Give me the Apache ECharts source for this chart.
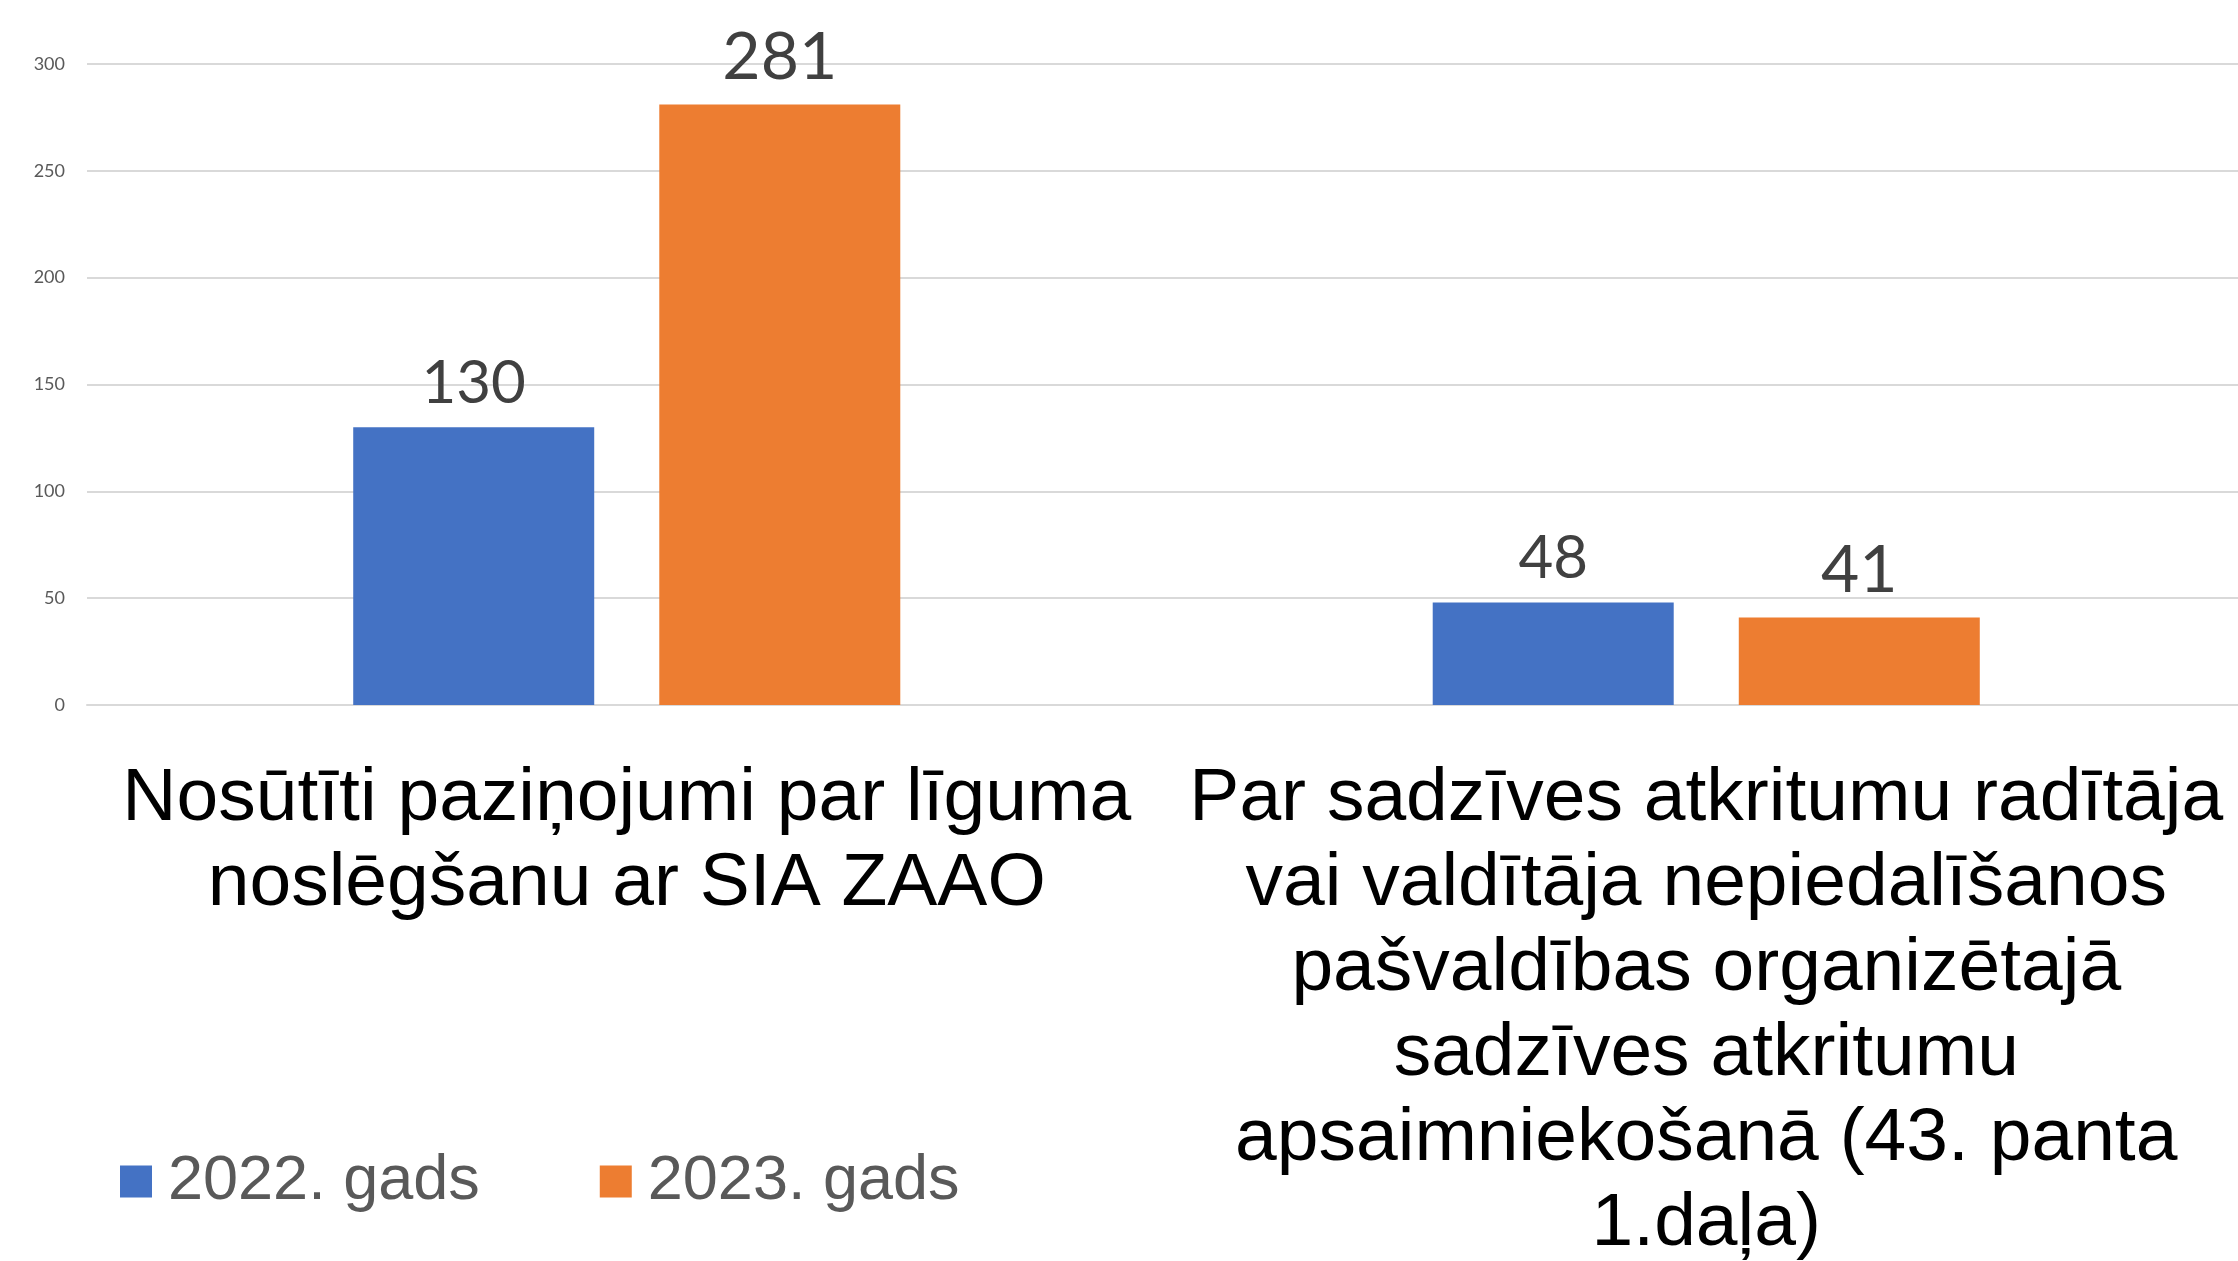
<!DOCTYPE html>
<html>
<head>
<meta charset="utf-8">
<script src="https://cdn.jsdelivr.net/npm/echarts@6/dist/echarts.min.js"></script>
<style>
html,body{margin:0;padding:0;background:#fff;}
#chart{width:2238px;height:1261px;}
</style>
</head>
<body>
<div id="chart"></div>
<script>
const categories = [
  "Nosūtīti paziņojumi par līguma\nnoslēgšanu ar SIA ZAAO",
  "Par sadzīves atkritumu radītāja\nvai valdītāja nepiedalīšanos\npašvaldības organizētajā\nsadzīves atkritumu\napsaimniekošanā (43. panta\n1.daļa)"
];
const seriesNames = ["2022. gads", "2023. gads"];
const values2022 = [130, 48];
const values2023 = [281, 41];
const yMin = 0, yMax = 300, yInterval = 50;

const chart = echarts.init(document.getElementById('chart'));
chart.setOption({
  animation: false,
  backgroundColor: '#ffffff',
  grid: { left: 87, right: -8, top: 64, bottom: 556, containLabel: false, outerBoundsMode: 'none' },
  legend: {
    left: 115, top: 1145,
    itemWidth: 32, itemHeight: 32, itemGap: 120,
    icon: 'rect',
    textStyle: { fontFamily: 'Liberation Sans, Arial, sans-serif', fontSize: 63, color: '#595959', padding: [0, 0, 0, 11] },
    data: seriesNames
  },
  xAxis: {
    type: 'category',
    data: categories,
    axisLine: { show: true, lineStyle: { color: '#d9d9d9', width: 2 } },
    axisTick: { show: false },
    axisLabel: {
      interval: 0,
      margin: 52,
      fontFamily: 'Liberation Sans, Arial, sans-serif',
      fontSize: 75,
      lineHeight: 85,
      color: '#000000',
      align: 'center'
    }
  },
  yAxis: {
    type: 'value',
    min: yMin, max: yMax, interval: yInterval,
    axisLine: { show: false },
    axisTick: { show: false },
    splitLine: { lineStyle: { color: '#d9d9d9', width: 2 } },
    axisLabel: { margin: 22, fontFamily: 'Lato, sans-serif', fontSize: 18, color: '#595959' }
  },
  series: [
    {
      name: seriesNames[0], type: 'bar', data: values2022,
      barWidth: 241, barGap: '27%',
      itemStyle: { color: '#4472c4' },
      label: { show: true, position: 'top', distance: 14, fontFamily: 'Lato, sans-serif', fontSize: 60, color: '#404040' }
    },
    {
      name: seriesNames[1], type: 'bar', data: values2023,
      barWidth: 241,
      itemStyle: { color: '#ed7d31' },
      label: { show: true, position: 'top', distance: 14, fontFamily: 'Lato, sans-serif', fontSize: 66, color: '#404040' }
    }
  ]
});
</script>
</body>
</html>
